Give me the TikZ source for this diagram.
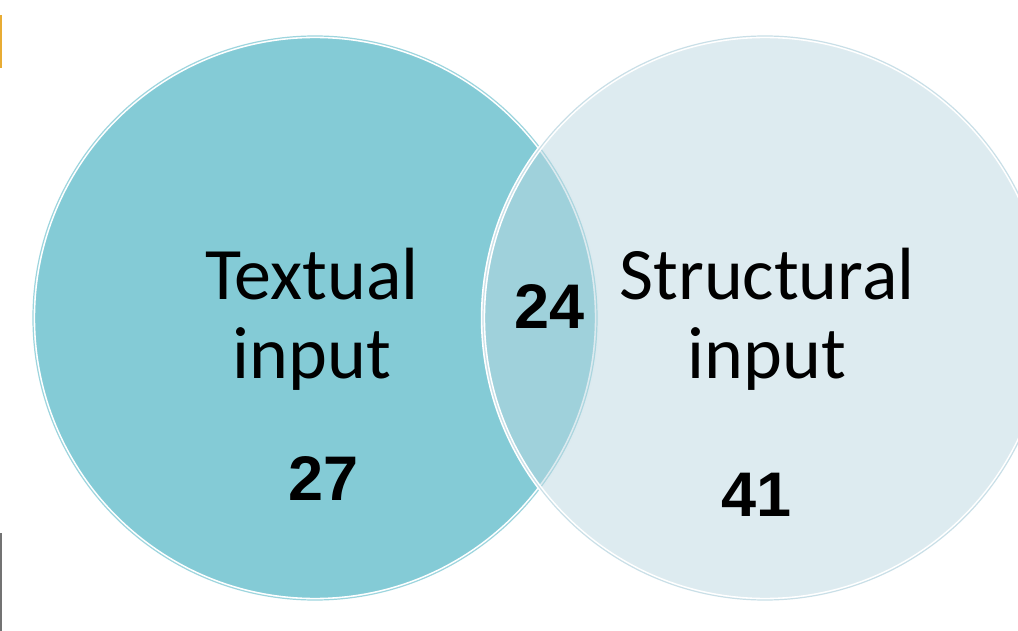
\documentclass[tikz,border=0pt]{standalone}
\usepackage{fontspec}
\setmainfont{Carlito}
\newfontfamily\numfont{Liberation Sans}
\definecolor{leftfill}{RGB}{132,203,214}
\definecolor{rightfill}{RGB}{187,215,225}
\definecolor{markorange}{RGB}{232,172,52}
\begin{document}
\begin{tikzpicture}[x=1pt,y=-1pt,line join=round,
		setlbl/.style={align=center,font=\fontsize{74}{79}\selectfont},
		setnum/.style={anchor=base,font=\numfont\bfseries\fontsize{63}{63}\selectfont},
		rim/.style={draw=white,line width=1.6pt,double distance=1.2pt}]
	\def\r{282}\def\cy{318}
	\useasboundingbox (0,0) rectangle (1018,631);
	\begin{scope}
		\clip (0,0) rectangle (1018,631);
		\fill[leftfill] (315,\cy) circle (\r);
		\draw[rim,double=leftfill!80!white] (315,\cy) circle (\r);
		\fill[rightfill,fill opacity=.5] (765,\cy) circle (\r);
		\draw[rim,double=rightfill!80!white] (765,\cy) circle (\r);
	\end{scope}
	% edge marks
	\fill[markorange] (0,15) rectangle (2,68);
	\fill[black!55] (0,533) rectangle (2,631);
	% labels
	\node[setlbl] (textual) at (312,319) {Textual\\input};
	\node[setlbl] (structural) at (767,319) {Structural\\input};
	\node[setnum] (ntext) at (324,500) {27};
	\node[setnum] (nboth) at (550,328) {24};
	\node[setnum] (nstruct) at (757,516) {41};
\end{tikzpicture}
\end{document}
